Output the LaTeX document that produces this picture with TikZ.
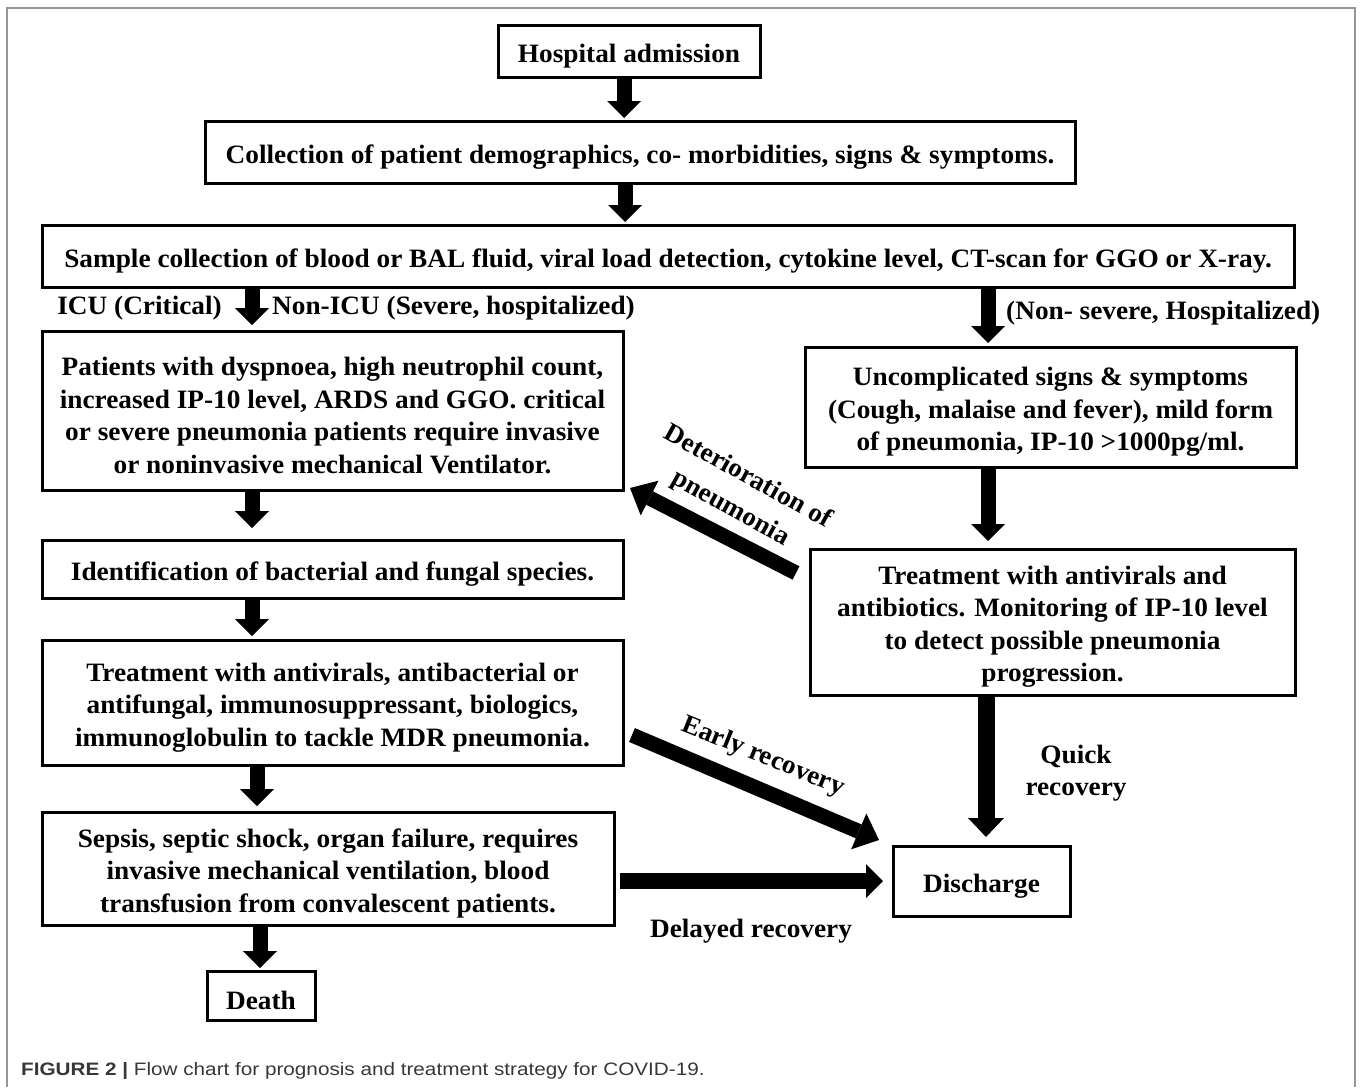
\documentclass[tikz,border=0pt]{standalone}
\usepackage{fontspec}
\setmainfont{Liberation Serif}[FakeStretch=1.03]
\newfontfamily\capfont{Liberation Sans}[FakeStretch=1.15]
\usetikzlibrary{arrows.meta}
\definecolor{framegray}{RGB}{150,150,150}
\definecolor{capgray}{RGB}{55,55,55}
\newcommand{\bxfont}{\fontsize{26.5}{32.5}\selectfont\bfseries}
\newcommand{\fs}{\rule{0pt}{28pt}}
\tikzset{
 box/.style={draw, line width=3pt, inner sep=0pt, align=center, font=\bxfont},
 lbl/.style={inner sep=0pt, align=center, font=\bxfont},
 barrow/.style={line width=15pt, -{Triangle[width=34pt,length=17pt,line width=0pt]}},
 darrow/.style={line width=15pt, -{Triangle[width=39pt,length=22pt,line width=0pt]}},
}
\begin{document}
\begin{tikzpicture}[x=1pt,y=-1pt]
\useasboundingbox (0,0) rectangle (1360,1087);
\draw[framegray, line width=2pt] (7,1087) -- (7,8) -- (1355,8) -- (1355,1087);
% boxes
\node[box, minimum width=262pt, minimum height=52pt] (adm) at (629,51) {\fs Hospital admission};
\node[box, minimum width=870pt, minimum height=62pt] (coll) at (640,152) {\fs Collection of patient demographics, co- morbidities, signs \& symptoms.};
\node[box, minimum width=1252pt, minimum height=62pt] (samp) at (668,256) {\fs Sample collection of blood or BAL fluid, viral load detection, cytokine level, CT-scan for GGO or X-ray.};
\node[box, minimum width=581pt, minimum height=159pt] (pat) at (332.5,410.5) {\fs Patients with dyspnoea, high neutrophil count,\\increased IP-10 level, ARDS and GGO. critical\\or severe pneumonia patients require invasive\\or noninvasive mechanical Ventilator.};
\node[box, minimum width=491pt, minimum height=120pt] (unc) at (1050.5,407) {\fs Uncomplicated signs \& symptoms\\(Cough, malaise and fever), mild form\\of pneumonia, IP-10 >1000pg/ml.};
\node[box, minimum width=581pt, minimum height=58pt] (ident) at (332.5,569) {\fs Identification of bacterial and fungal species.};
\node[box, minimum width=485pt, minimum height=146pt] (trr) at (1052.5,622) {\fs Treatment with antivirals and\\antibiotics. Monitoring of IP-10 level\\to detect possible pneumonia\\progression.};
\node[box, minimum width=581pt, minimum height=125pt] (trl) at (332.5,702.5) {\fs Treatment with antivirals, antibacterial or\\antifungal, immunosuppressant, biologics,\\immunoglobulin to tackle MDR pneumonia.};
\node[box, minimum width=572pt, minimum height=113pt] (seps) at (328,868.5) {\fs Sepsis, septic shock, organ failure, requires\\invasive mechanical ventilation, blood\\transfusion from convalescent patients.};
\node[box, minimum width=108pt, minimum height=49pt] (death) at (261,995.5) {\fs Death};
\node[box, minimum width=177pt, minimum height=70pt] (disc) at (981.5,881) {\fs Discharge};
% arrow anchor coordinates
\coordinate (c1) at ([xshift=-5pt]adm.south);
\coordinate (c2) at ([xshift=-15pt]coll.south);
\coordinate (c3) at ([xshift=-80.5pt]pat.north);
\coordinate (c4) at ([xshift=-62.5pt]unc.north);
\coordinate (c5) at ([xshift=-64.5pt]trr.north);
\coordinate (c6) at ([xshift=-80.5pt]ident.north);
\coordinate (c7) at ([xshift=-80.5pt]trl.north);
\coordinate (c8) at ([xshift=-71pt]seps.north);
\coordinate (c9) at ([xshift=-1pt]death.north);
\coordinate (c10) at ([xshift=4.5pt]disc.north);
\coordinate (d1) at ([shift={(4.5pt,-12.5pt)}]seps.east);
\coordinate (e1) at ([shift={(7.5pt,-32.5pt)}]trl.east);
\coordinate (e2) at ([shift={(-12.5pt,4.5pt)}]disc.north west);
\coordinate (p1) at ([shift={(-12.5pt,49pt)}]trr.west);
\coordinate (p2) at ([shift={(5.5pt,3.5pt)}]pat.south east);
% arrows
\draw[barrow, shorten >=1.5pt] (c1) -- (c1 |- coll.north);
\draw[barrow, shorten >=1.5pt] (c2) -- (c2 |- samp.north);
\draw[barrow, shorten >=4.5pt] (c3 |- samp.south) -- (c3);
\draw[barrow, shorten >=2.5pt] (c4 |- samp.south) -- (c4);
\draw[barrow, shorten >=6.5pt] (c5 |- unc.south) -- (c5);
\draw[barrow, shorten >=10.5pt] (c6 |- pat.south) -- (c6);
\draw[barrow, shorten >=2.5pt] (c7 |- ident.south) -- (c7);
\draw[barrow, shorten >=4.5pt] (c8 |- trl.south) -- (c8);
\draw[barrow, shorten >=1.5pt] (c9 |- seps.south) -- (c9);
\draw[barrow, line width=17pt, -{Triangle[width=36pt,length=19pt,line width=0pt]}, shorten >=7.5pt] (c10 |- trr.south) -- (c10);
\draw[barrow, line width=16pt, shorten >=8.5pt] (d1) -- (d1 -| disc.west);
\draw[darrow] (e1) -- (e2);
\draw[darrow] (p1) -- (p2);
% labels
\node[lbl, anchor=east] (icu) at (222,308) {ICU (Critical)};
\node[lbl, anchor=west] (nonicu) at (272,308) {Non-ICU (Severe, hospitalized)};
\node[lbl, anchor=west] (nons) at (1006,313) {(Non- severe, Hospitalized)};
\node[lbl] (quick) at (1076,773) {Quick\\recovery};
\node[lbl, rotate=-29, font=\fontsize{26.5}{36}\selectfont\bfseries] (det) at (739,493) {Deterioration of\\pneumonia};
\node[lbl, rotate=-22] (early) at (763,757) {Early recovery};
\node[lbl] (delayed) at (751,931) {Delayed recovery};
\node[anchor=base west, inner sep=0pt, font=\capfont\fontsize{18}{21}\selectfont, text=capgray] (cap) at (21,1075) {\textbf{FIGURE 2 |} Flow chart for prognosis and treatment strategy for COVID-19.};
\end{tikzpicture}
\end{document}
